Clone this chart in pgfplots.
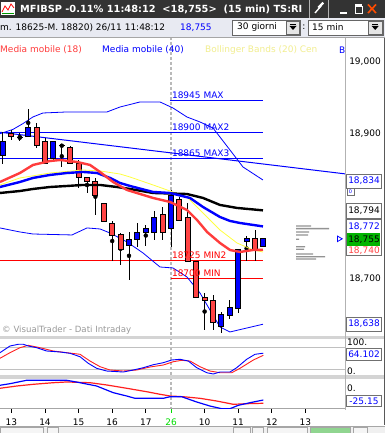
\documentclass[border=0pt]{standalone}
\usepackage{fontspec}
\setmainfont{DejaVu Sans}
\usepackage{pgfplots}
\pgfplotsset{compat=1.18}
\usepackage{pgfplotstable}
\newcommand\fs[1]{\fontsize{#1}{#1}\selectfont}
\definecolor{mared}{HTML}{FF3C3C}
\definecolor{cred}{HTML}{FF4444}
\definecolor{cblue}{HTML}{0000FF}
\definecolor{ylw}{HTML}{FFFF40}
\definecolor{ylwtxt}{HTML}{F2EE90}
\definecolor{sepgray}{HTML}{D4D4D4}
\definecolor{lvlgray}{HTML}{C0C0C0}
\definecolor{titlebg}{HTML}{333333}
\definecolor{toolbg}{HTML}{E8EAF2}
\definecolor{okgreen}{HTML}{00B400}
\definecolor{tickgreen}{HTML}{00DD00}
\definecolor{oscred}{HTML}{FF2020}
\definecolor{boxgray}{HTML}{707070}

% candles: i = bar index (15 min), o h l c
\pgfplotstableread{
i o h l c
0 18868.5 18901.4 18857.5 18889.0
3 18895.0 18933.0 18895.0 18907.3
6 18864.4 18889.0 18861.6 18889.0
15 18745.2 18764.8 18698.6 18754.4
16 18754.4 18777.1 18744.2 18764.0
17 18764.0 18774.0 18745.2 18769.5
18 18764.0 18793.2 18753.4 18784.5
20 18769.5 18822.0 18744.2 18815.0
26 18634.2 18654.8 18626.0 18650.7
27 18649.3 18671.2 18645.2 18660.3
28 18658.9 18741.0 18653.5 18741.0
29 18750.7 18759.0 18724.7 18754.8
31 18744.2 18755.0 18744.2 18755.0
}\upC
\pgfplotstableread{
i o h l c
1 18899.5 18904.0 18890.0 18895.0
4 18907.3 18913.3 18879.0 18882.6
5 18889.0 18892.7 18858.5 18858.5
8 18879.9 18882.6 18858.5 18858.5
9 18858.5 18863.0 18824.7 18839.3
10 18839.3 18839.3 18818.2 18833.3
11 18834.2 18837.9 18787.7 18814.1
12 18803.7 18803.7 18778.5 18778.5
13 18776.0 18779.0 18725.0 18759.0
14 18760.3 18763.4 18719.2 18739.7
19 18788.6 18799.0 18753.4 18764.0
21 18809.2 18812.0 18779.5 18779.5
22 18784.5 18803.7 18723.7 18723.7
23 18723.7 18723.7 18675.0 18675.0
24 18675.0 18680.8 18630.0 18671.0
25 18671.0 18678.0 18630.0 18641.0
30 18754.8 18767.0 18724.7 18739.7
}\dnC
\pgfplotstableread{
i o h l c
2 18893.5 18900.0 18889.0 18893.5
7 18882.6 18882.6 18853.8 18882.6
}\djC

\pgfplotsset{
  panel/.style={anchor=south west, scale only axis, width=345pt,
    xmin=-0.357, xmax=40.714, clip=true},
  pricepanel/.style={panel, at={(0pt,96pt)}, height=300pt,
    ymin=18620.5, ymax=19031.5, hide axis},
  wick/.style={only marks, mark=none, forget plot,
    error bars/.cd, y dir=both, y explicit, error mark=none,
    error bar style={line width=1pt, draw=black}},
}

\begin{document}
\begin{tikzpicture}[x=1pt,y=1pt,font=\fs{9}]
\useasboundingbox (0,0) rectangle (385,433);
\fill[white] (0,0) rectangle (385,433);

% day separator (under the candles)
\draw[gray!55, line width=2pt, dash pattern=on 3pt off 2pt] (171,396) -- (171,24);

% ---------------- main price panel: levels, bands, wicks ----------------
\begin{axis}[pricepanel]
\addplot[cblue, line width=1pt] coordinates {(19.88,18945) (30.95,18945)};
\addplot[cblue, line width=1pt] coordinates {(-0.36,18900) (30.95,18900)};
\addplot[cblue, line width=1pt] coordinates {(-0.36,18865) (30.95,18865)};
\addplot[red, line width=1pt] coordinates {(-0.36,18725) (30.95,18725)};
\addplot[red, line width=1pt] coordinates {(20,18700) (30.95,18700)};
\addplot[cblue, line width=1pt] coordinates {(-0.36,18901) (40.71,18844)};
\addplot[cblue, line width=0.8pt] coordinates {(-0.36,18899) (1.2,18905) (2.4,18913) (3.57,18922) (4.76,18927.4) (7.62,18928.8) (12.38,18928.8) (13.93,18935.6) (16.31,18942.5) (18.69,18942.5) (20.24,18934.2) (21.9,18921.9) (23.45,18915.1) (25,18906.8) (27.02,18876.7) (28.57,18853.4) (30.95,18835.6)};
\addplot[cblue, line width=0.8pt] coordinates {(-0.36,18769.9) (2.02,18764.4) (3.57,18761.6) (8.21,18760.3) (10,18769.9) (11.55,18768.5) (12.74,18763.0) (14.76,18750.7) (16.67,18735.6) (18.69,18716.4) (20.24,18715.1) (21.9,18702.7) (23.45,18680.8) (25.83,18634.2) (27.02,18627.4) (30.95,18638)};
\addplot[wick] table[x=i, y expr={(\thisrow{h}+\thisrow{l})/2}, y error expr={(\thisrow{h}-\thisrow{l})/2}] {\upC};
\addplot[wick] table[x=i, y expr={(\thisrow{h}+\thisrow{l})/2}, y error expr={(\thisrow{h}-\thisrow{l})/2}] {\dnC};
\addplot[wick] table[x=i, y expr={(\thisrow{h}+\thisrow{l})/2}, y error expr={(\thisrow{h}-\thisrow{l})/2}] {\djC};
\addplot[only marks, mark=none, forget plot, error bars/.cd, x dir=both, x fixed=0.36, error mark=none, error bar style={line width=1pt, draw=black}] table[x=i, y=o] {\djC};
\end{axis}

% ---------------- candle bodies (rising) ----------------
\begin{axis}[pricepanel, ybar stacked, bar width=5pt]
\addplot[draw=none, fill=none] table[x=i, y expr={min(\thisrow{o},\thisrow{c})}] {\upC};
\addplot[fill=cblue, draw=black, line width=1pt] table[x=i, y expr={abs(\thisrow{c}-\thisrow{o})}] {\upC};
\end{axis}
% ---------------- candle bodies (falling) ----------------
\begin{axis}[pricepanel, ybar stacked, bar width=5pt]
\addplot[draw=none, fill=none] table[x=i, y expr={min(\thisrow{o},\thisrow{c})}] {\dnC};
\addplot[fill=cred, draw=black, line width=1pt] table[x=i, y expr={abs(\thisrow{c}-\thisrow{o})}] {\dnC};
\end{axis}

% ---------------- moving averages and level labels ----------------
\begin{axis}[pricepanel]
\addplot[ylw, line width=0.8pt] coordinates {(-0.36,18828.8) (2.02,18838.4) (5.6,18845.2) (9.52,18849.3) (11.55,18848.0) (13.93,18843.8) (15.12,18839.7) (17.86,18828.8) (21.9,18812.3) (23.81,18790.4) (25.83,18767.1) (27.86,18749.3) (29.76,18739.7) (30.95,18737.0)};
\addplot[black, line width=2.4pt] coordinates {(-0.36,18817.8) (2.02,18820.5) (3.57,18823.3) (5.6,18826.0) (7.62,18827.4) (9.52,18828.8) (11.55,18828.8) (13.57,18826.0) (15.12,18823.3) (17.86,18817.8) (21.9,18816.4) (23.81,18811.0) (25.83,18801.4) (27.86,18797.3) (30.95,18794)};
\addplot[cblue, line width=2.4pt] coordinates {(-0.36,18826.0) (2.02,18832.9) (3.57,18838.4) (5.6,18842.5) (7.62,18845.2) (9.52,18846.6) (11.19,18845.2) (12.74,18838.4) (13.93,18831.5) (15.12,18827.4) (17.86,18819.2) (19.88,18817.8) (22.26,18811.0) (23.81,18798.6) (25.83,18784.9) (27.02,18779.5) (28.21,18776.7) (30.95,18772)};
\addplot[mared, line width=2.4pt] coordinates {(-0.36,18832.9) (2.02,18845.2) (3.57,18856.2) (5.6,18861.6) (6.79,18863.0) (8.81,18860.3) (10.36,18856.2) (11.55,18846.6) (13.1,18832.9) (14.76,18821.9) (17.86,18811.0) (19.88,18805.5) (21.9,18794.5) (23.1,18780.8) (24.29,18764.4) (25.83,18749.3) (27.02,18739.7) (28.21,18737.0) (29.76,18739.7) (30.95,18740)};
\node[anchor=base west, inner sep=0pt, text=cblue, yshift=2pt] at (axis cs:20.1,18945) {18945 MAX};
\node[anchor=base west, inner sep=0pt, text=cblue, yshift=2pt] at (axis cs:20.1,18900) {18900 MAX2};
\node[anchor=base west, inner sep=0pt, text=cblue, yshift=2pt] at (axis cs:20.1,18865) {18865 MAX3};
\node[anchor=base west, inner sep=0pt, text=red, yshift=2pt] at (axis cs:20.1,18725) {18725 MIN2};
\node[anchor=base west, inner sep=0pt, text=red, yshift=2pt] at (axis cs:20.1,18700) {18700 MIN};
\end{axis}

% volume-at-price histogram and current price marker
\begin{axis}[at={(296pt,96pt)}, anchor=south west, scale only axis, width=50pt, height=300pt,
  xmin=0, xmax=50, ymin=18620.5, ymax=19031.5, hide axis, clip=false]
\addplot[xbar, bar width=1.4pt, bar shift=0pt, fill=gray!85, draw=none] coordinates {(15,18772.6) (33,18768.9) (13,18764.4) (12,18760.3) (3,18754.4) (9,18744.2) (8,18740.7) (17,18734.2) (29,18730.5) (20,18727.4)};
\addplot[only marks, mark=triangle, mark size=3.2pt, mark options={rotate=-90, draw=cblue, fill=white, line width=0.8pt}] coordinates {(43,18755)};
\end{axis}

% ---------------- oscillator 1 ----------------
\begin{axis}[panel, at={(0pt,56pt)}, height=40pt, ymin=-0.8, ymax=108.3, hide axis]
\addplot[lvlgray, line width=1pt] coordinates {(-0.36,80) (40.71,80)};
\addplot[lvlgray, line width=1pt] coordinates {(-0.36,20) (40.71,20)};
\addplot[oscred, line width=0.9pt] coordinates {(-0.36,50.2) (0.83,65.5) (2.02,79.1) (3.01,85.6) (4.4,79.1) (5.99,70.1) (7.58,65.5) (9.17,61.1) (10.36,42.8) (11.55,27.3) (12.74,18.3) (14.32,15.5) (15.92,18.3) (17.5,26.5) (19.08,31.9) (20.27,40.9) (21.27,44.7) (22.26,42.8) (23.45,27.3) (24.64,15.5) (25.83,10.9) (27.23,10.9) (28.21,22.9) (29.8,45.5) (30.99,58.4)};
\addplot[cblue, line width=0.9pt] coordinates {(-0.36,65.5) (0.24,74.7) (0.83,83.7) (1.82,88.4) (2.42,88.4) (3.01,83.7) (4.01,79.1) (5.2,70.1) (6.79,67.4) (7.98,63.8) (9.17,54.5) (10.15,36.5) (11.15,22.9) (12.35,15.5) (14.32,12.8) (15.51,18.3) (16.7,24.5) (17.89,32.7) (19.08,38.2) (20.08,45.5) (21.07,47.5) (22.06,42.8) (23.06,24.5) (24.25,10.9) (25.04,7.4) (25.83,12.8) (27.02,12.8) (27.82,24.5) (29.01,47.5) (30,61.1) (30.99,64.1)};
\end{axis}

% ---------------- oscillator 2 + time axis ----------------
\begin{axis}[panel, at={(0pt,24pt)}, height=30.3pt, ymin=-42.55, ymax=16.05,
  axis x line*=bottom, axis y line=none,
  x axis line style={-, draw=gray!70, line width=1pt},
  xtick={1,5,9,13,17,24,28,32,36},
  xticklabels={13,14,15,16,17,10,11,12,13},
  extra x ticks={20}, extra x tick labels={26},
  extra x tick style={major tick style={tickgreen, line width=1pt}, xticklabel style={text=tickgreen}},
  xtick align=outside, major tick length=4pt,
  major tick style={black, line width=1pt},
  xticklabel style={font=\fs{9}, inner sep=1pt, yshift=-4.5pt}]
\addplot[oscred, line width=1.2pt] coordinates {(-0.36,-2.5) (1.63,1.9) (3.61,5.2) (5.99,8.3) (7.58,9.7) (10.36,8.3) (12.35,3.9) (14.73,-2.5) (17.1,-9.1) (18.69,-14.1) (19.88,-17.4) (21.46,-18.8) (23.45,-21.9) (25.44,-27.1) (27.42,-33.5) (29.01,-32.3) (30.99,-31.5)};
\addplot[cblue, line width=1.2pt] coordinates {(-0.36,3.3) (0.83,6.4) (2.82,13.0) (7.58,13.0) (9.17,8.3) (11.15,1.9) (13.13,-11.0) (14.73,-17.4) (15.71,-21.9) (19.08,-21.9) (19.88,-18.8) (21.27,-18.8) (23.06,-29.0) (24.64,-36.8) (26.04,-42.0) (27.02,-42.0) (28.01,-35.4) (29.4,-30.4) (30.99,-25.15)};
\end{axis}

% ---------------- panel separators ----------------
\fill[sepgray] (0,94.3) rectangle (385,97);
\fill[sepgray] (0,54.3) rectangle (385,57.7);
\draw[gray!60, line width=1pt] (345,396) -- (345,23);
\fill[black!65] (383.5,8) rectangle (385,396);

% ---------------- right price scale ----------------
\node at (365,371) {19,000};
\node at (365,299) {18,900};
\draw[boxgray, fill=white] (346,259) rectangle (381.5,245);
\node[text=cblue] at (364,252) {18,834};
\draw[boxgray, fill=white] (347,245) rectangle (354,237.5);
\node[text=cblue, font=\fs{5}] at (350.5,241.2) {0};
\draw[boxgray, fill=white] (346,230) rectangle (381.5,215);
\node at (364,222.5) {18,794};
\draw[boxgray, fill=white] (346,214) rectangle (381.5,178);
\node[text=cblue] at (364,206.3) {18,772};
\fill[okgreen] (347.3,187.3) rectangle (380.3,199.7);
\node at (364,193.5) {18,755};
\begin{scope}
\clip (346.5,178.5) rectangle (381,187);
\node[text=cred] at (364,182) {18,740};
\end{scope}
\node at (365,154) {18,700};
\draw[boxgray, fill=white] (346,116) rectangle (381.5,102);
\node[text=cblue] at (364,109) {18,638};
\node[anchor=west, inner sep=0pt] at (347,90.5) {100.};
\draw[boxgray, fill=white] (346,85) rectangle (381.5,73);
\node[text=cblue] at (364,79) {64.102};
\node[anchor=west, inner sep=0pt] at (347,61.5) {0.};
\node[anchor=west, inner sep=0pt] at (347,44.5) {0.};
\draw[boxgray, fill=white] (346,38) rectangle (381.5,26.3);
\node[text=cblue] at (364,32) {-25.15};

% ---------------- legend row and watermark ----------------
\node[anchor=west, inner sep=0pt, text=mared] at (0,383) {Media mobile (18)};
\node[anchor=west, inner sep=0pt, text=cblue] at (102,383) {Media mobile (40)};
\node[anchor=west, inner sep=0pt, text=ylwtxt] at (205,383) {Bollinger Bands (20) Cen};
\node[anchor=west, inner sep=0pt, text=cblue] at (339,383) {B};
\node[anchor=west, inner sep=0pt, text=gray!80, font=\fs{8.6}] at (2,103) {© VisualTrader - Dati Intraday};

% ---------------- window chrome ----------------
\fill[titlebg] (0,415) rectangle (385,433);
\fill[white] (1,418) rectangle (15,431);
\draw[red, line width=0.8pt] (2,421) -- (5,427) -- (8,423) -- (11,429) -- (14,425);
\draw[green!60!black, line width=0.8pt] (2,419.5) -- (14,419.5);
\node[anchor=west, inner sep=0pt, text=white, font=\bfseries\fs{9.8}] at (20,424) {MFIBSP -0.11\% 11:48:12 \ <18,755> \ (15 min) TS:RI};
\draw[gray!60, line width=0.6pt] (309,415) -- (309,433) (328,415) -- (328,433);
\draw[white, line width=1.4pt] (315,420) -- (321,427);
\fill[white] (317.5,426) -- (322.5,431) -- (324,429.5) -- (319.5,424.5) -- cycle;
\draw[white, line width=1.4pt] (340,420) -- (347,420);
\draw[white, line width=1pt] (355,419.5) rectangle (362,426.5);
\draw[white, line width=1.6pt] (355,428) -- (362,428);
\draw[orange!60!red, line width=1.6pt] (368,428.5) -- (376,420) (368,420) -- (376,428.5);

\fill[toolbg] (0,396) rectangle (385,415);
\draw[gray!70] (0,396) -- (385,396);
\node[anchor=west, inner sep=0pt] at (0,405) {m. 18625-M. 18820) 26/11 11:48:12};
\node[anchor=west, inner sep=0pt, text=cblue] at (180,405) {18,755};
\draw[gray!80!black, fill=white] (232,398) rectangle (300,413);
\node[anchor=west, inner sep=0pt] at (237,405.5) {30 giorni};
\draw[gray!80!black, fill=gray!20] (286,399) rectangle (299.5,412);
\draw[black, line width=1.2pt] (290,408.8) -- (296,408.8);
\fill[black] (289.5,407) -- (296.5,407) -- (293,403) -- cycle;
\node[inner sep=0pt] at (304,405.5) {:};
\draw[gray!80!black, fill=white] (308,398) rectangle (383,413);
\node[anchor=west, inner sep=0pt] at (312,405.5) {15 min};
\draw[gray!80!black, fill=gray!20] (368.5,399) rectangle (382,412);
\draw[black, line width=1.2pt] (372.2,408.8) -- (378.2,408.8);
\fill[black] (371.7,407) -- (378.7,407) -- (375.2,403) -- cycle;

% bottom strip
\fill[gray!12] (0,0) rectangle (385,6.5);
\draw[gray!70] (0,6.5) -- (385,6.5);
\draw[gray!70, fill=gray!8] (0,-1) rectangle (43,6);
\draw[gray!70, fill=gray!8] (47,-1) rectangle (58,5.5);
\draw[gray!70, fill=gray!8] (233,-1) rectangle (250,5.5);
\draw[gray!70, fill=gray!8] (252,-1) rectangle (263,5.5);
\draw[gray!70, fill=gray!8] (267,-1) rectangle (307,6);
\draw[gray!70, fill=green!45!gray!60] (310,-1) rectangle (350,6);
\draw[gray!70, fill=gray!8] (353,-1) rectangle (367,6);
\end{tikzpicture}
\end{document}
